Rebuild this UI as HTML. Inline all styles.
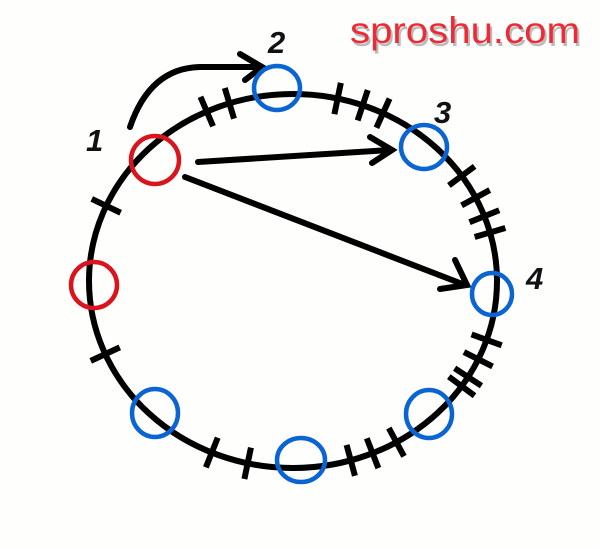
<!DOCTYPE html>
<html><head><meta charset="utf-8"><style>
html,body{margin:0;padding:0;background:#fefefc;}
svg{display:block}
text{font-family:"Liberation Sans",sans-serif}
</style></head><body>
<svg id="s" width="600" height="548" viewBox="0 0 600 548" xmlns="http://www.w3.org/2000/svg">
<rect width="600" height="548" fill="#fefefc"/>
<text x="350" y="43" font-size="37" fill="#bbb" transform="translate(2,3)" textLength="230" lengthAdjust="spacingAndGlyphs">sproshu.com</text>
<text x="350" y="43" font-size="37" fill="#ee2a36" textLength="230" lengthAdjust="spacingAndGlyphs">sproshu.com</text>
<ellipse cx="293" cy="281" rx="204" ry="187" fill="none" stroke="#000" stroke-width="6"/>
<g id="ticks" stroke="#000" stroke-width="6"></g>
<g fill="none" stroke="#000" stroke-width="6" stroke-linecap="round">
<path d="M130 127 Q150 68 200 67 L260 67"/>
<path d="M240 54 L262 67 L245 80"/>
<path d="M198 162 L390 150"/>
<path d="M370 137 L392 150 L372 163"/>
<path d="M185 177 L465 285"/>
<path d="M455 260 L467 285 L440 289"/>
</g>
<g fill="none" stroke-width="4.5">
<ellipse cx="155" cy="160" rx="24" ry="24" stroke="#d9141c"/>
<ellipse cx="94" cy="285" rx="23" ry="23" stroke="#d9141c"/>
<ellipse cx="277" cy="88" rx="23" ry="22" stroke="#0a64d2"/>
<ellipse cx="424" cy="147" rx="23" ry="22" stroke="#0a64d2"/>
<ellipse cx="492" cy="294" rx="20" ry="21" stroke="#0a64d2"/>
<ellipse cx="155" cy="413" rx="23" ry="24" stroke="#0a64d2"/>
<ellipse cx="301" cy="460" rx="24" ry="22" stroke="#0a64d2"/>
<ellipse cx="429" cy="414" rx="23" ry="24" stroke="#0a64d2"/>
</g>
<g font-size="31" font-weight="bold" font-style="italic" fill="#111">
<text x="86" y="151">1</text>
<text x="268" y="53">2</text>
<text x="434" y="123">3</text>
<text x="526" y="289">4</text>
</g>
</svg>
<script>
var cx=293,cy=281,rx=204,ry=187,L=16;
var pts=[[119,211],[103,355],[207,112],[230,105],[338,97],[362,107],[382,115],[460,177],[475,198],[482,217],[488,233],[487,340],[480,360],[468,377],[463,387],[395,440],[372,452],[350,458],[248,462],[213,450]];
var g=document.getElementById('ticks'),h='';
pts.forEach(function(p){var t=Math.atan2((p[1]-cy)/ry,(p[0]-cx)/rx);var x=cx+rx*Math.cos(t),y=cy+ry*Math.sin(t);
var nx=Math.cos(t)/rx,ny=Math.sin(t)/ry,n=Math.hypot(nx,ny);nx/=n;ny/=n;
h+='<line x1="'+(x-nx*L)+'" y1="'+(y-ny*L)+'" x2="'+(x+nx*L)+'" y2="'+(y+ny*L)+'"/>';});
g.innerHTML=h;
</script>
</body></html>
